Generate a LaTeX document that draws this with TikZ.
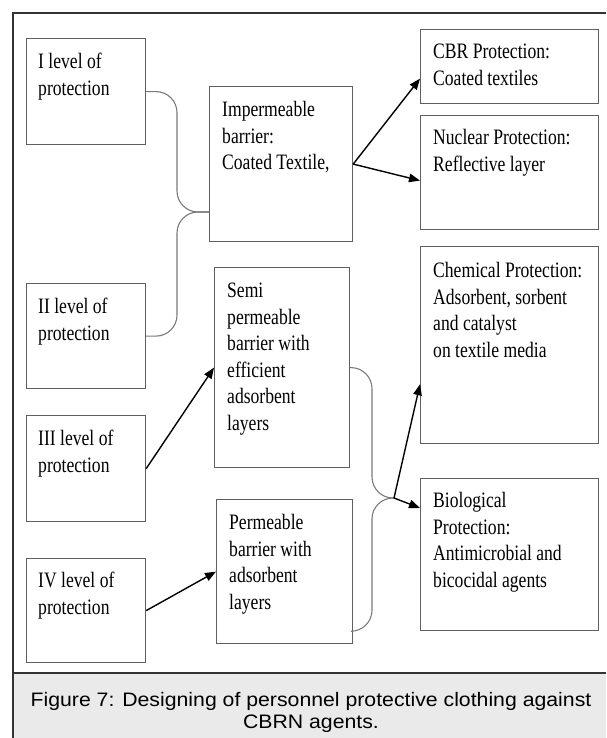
\documentclass[tikz,border=0pt]{standalone}
\usepackage{fontspec}
\setmainfont{Liberation Serif}
\newfontfamily\bodyfont[FakeStretch=0.8]{Liberation Serif}
\newfontfamily\capfont[FakeStretch=1.09]{Liberation Sans}
\usetikzlibrary{calc,arrows.meta}
\definecolor{boxgray}{HTML}{5F5F5F}
\definecolor{bracegray}{HTML}{7A7A7A}
\definecolor{framecol}{HTML}{333333}
\definecolor{capgray}{HTML}{EAEAEA}
\begin{document}
\begin{tikzpicture}[x=1pt,y=-1pt,
  pbox/.style={draw=boxgray,line width=1.2pt,anchor=north west,inner sep=0pt},
  ptext/.style={anchor=north west,inner sep=0pt,align=left,text=black,
    font=\bodyfont\fontsize{22}{26.5}\selectfont},
  brace/.style={draw=bracegray,line width=1.1pt,rounded corners=21pt},
  arr/.style={draw=black,line width=1.4pt,-{Triangle[length=11pt,width=8.5pt]}},
  captext/.style={anchor=base,inner sep=0pt,text=black,
    font=\capfont\fontsize{19.5}{23}\selectfont}]
\useasboundingbox (0,0) rectangle (606,738);
% frame and caption band
\fill[capgray] (13,673) rectangle (606,738);
\draw[framecol,line width=1.2pt] (13,673) -- (606,673);
\draw[framecol,line width=1.3pt] (606,13) -- (13,13) -- (13,738);
\node[captext] (cap1) at (311,706) {Figure 7: Designing of personnel protective clothing against};
\node[captext] (cap2) at (311,728) {CBRN agents.};
% boxes
\node[pbox,minimum width=119pt,minimum height=106pt] (b1) at (26,38) {};
\node[pbox,minimum width=119pt,minimum height=105pt] (b2) at (26,283) {};
\node[pbox,minimum width=119pt,minimum height=106pt] (b3) at (26,415) {};
\node[pbox,minimum width=119pt,minimum height=104pt] (b4) at (26,558) {};
\node[pbox,minimum width=143pt,minimum height=155pt] (imp) at (209,86) {};
\node[pbox,minimum width=135pt,minimum height=200pt] (semi) at (214,267) {};
\node[pbox,minimum width=136pt,minimum height=144pt] (perm) at (216,499) {};
\node[pbox,minimum width=178pt,minimum height=74pt] (cbr) at (420,29) {};
\node[pbox,minimum width=178pt,minimum height=114pt] (nuc) at (420,115) {};
\node[pbox,minimum width=178pt,minimum height=197pt] (chem) at (420,246) {};
\node[pbox,minimum width=178pt,minimum height=152pt] (bio) at (420,478) {};
% texts
\node[ptext] (t1) at ($(b1.north west)+(12,12)$) {\strut I level of\\protection};
\node[ptext] (t2) at ($(b2.north west)+(12,12)$) {\strut II level of\\protection};
\node[ptext] (t3) at ($(b3.north west)+(12,12)$) {\strut III level of\\protection};
\node[ptext] (t4) at ($(b4.north west)+(12,11)$) {\strut IV level of\\protection};
\node[ptext] (timp) at ($(imp.north west)+(13,12)$) {\strut Impermeable\\barrier:\\Coated Textile,};
\node[ptext] (tsemi) at ($(semi.north west)+(13,12)$) {\strut Semi\\permeable\\barrier with\\efficient\\adsorbent\\layers};
\node[ptext] (tperm) at ($(perm.north west)+(13,12)$) {\strut Permeable\\barrier with\\adsorbent\\layers};
\node[ptext] (tcbr) at ($(cbr.north west)+(13,11)$) {\strut CBR Protection:\\Coated textiles};
\node[ptext] (tnuc) at ($(nuc.north west)+(13,11)$) {\strut Nuclear Protection:\\Reflective layer};
\node[ptext] (tchem) at ($(chem.north west)+(13,13)$) {\strut Chemical Protection:\\Adsorbent, sorbent\\and catalyst\\on textile media};
\node[ptext] (tbio) at ($(bio.north west)+(13,11)$) {\strut Biological\\Protection:\\Antimicrobial and\\bicocidal agents};
% brace 1
\coordinate (k1) at (177,212);
\draw[brace] (b1.east) -| (k1) -- (imp.west |- k1);
\draw[brace] (b2.east) -| (k1) -- (imp.west |- k1);
% arrows from impermeable
\draw[arr] (imp.east) -- ($(cbr.west)+(0,12)$);
\draw[arr] (imp.east) -- ($(nuc.west)+(0,8)$);
% arrows from levels III and IV
\draw[arr] (b3.east) -- (semi.west);
\draw[arr] (b4.east) -- (perm.west);
% brace 2
\coordinate (k2) at (372,498);
\coordinate (j2) at (394,498);
\draw[brace] (semi.east) -| (k2) -- (j2);
\draw[brace] ($(perm.south east)+(0,-13)$) -| (k2) -- (j2);
\draw[arr] (j2) -- ($(chem.south west)+(0,-60)$);
\draw[arr] (j2) -- ($(bio.north west)+(0,30)$);
\end{tikzpicture}
\end{document}
